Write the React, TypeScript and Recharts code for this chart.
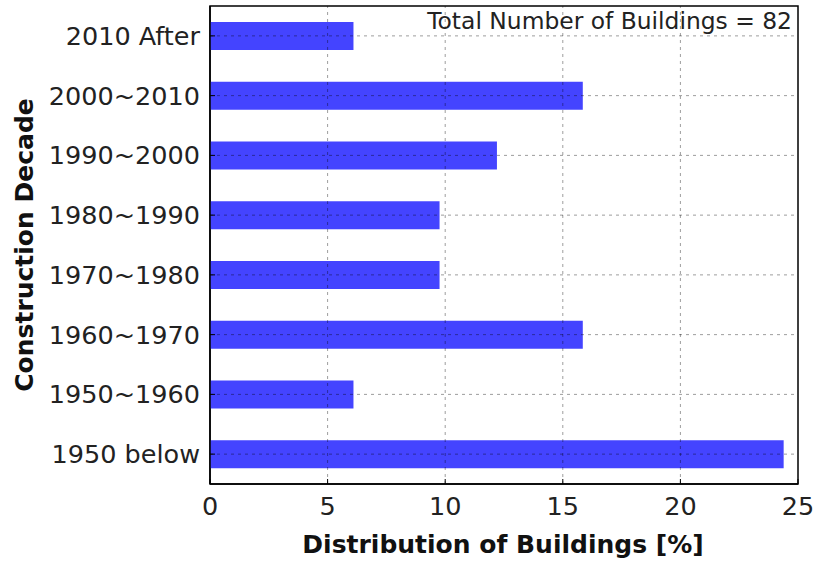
import { BarChart, Bar, XAxis, YAxis, Label, ReferenceLine, ReferenceArea } from 'recharts';

const decades = [
  '1950 below',
  '1950~1960',
  '1960~1970',
  '1970~1980',
  '1980~1990',
  '1990~2000',
  '2000~2010',
  '2010 After',
];
const shares = [24.39, 6.1, 15.85, 9.76, 9.76, 12.2, 15.85, 6.1];
const xTicks = [0, 5, 10, 15, 20, 25];
const totalBuildings = 82;

const data = decades.map((d, i) => ({ decade: d, share: shares[i] }));

const FONT = '"DejaVu Sans", sans-serif';
const gridStyle = { stroke: '#000', strokeWidth: 0.6, strokeDasharray: '3 4', strokeOpacity: 0.65 };

export default function App() {
  return (
    <div style={{ position: 'fixed', left: 0, top: 0, width: 814, height: 563, overflow: 'hidden', background: '#fff' }}>
      <BarChart
        width={814}
        height={563}
        data={data}
        layout="vertical"
        margin={{ top: 6, right: 16, bottom: 0, left: 0 }}
        barCategoryGap={0}
      >
        <XAxis
          type="number"
          domain={[0, 25]}
          ticks={xTicks}
          height={79}
          tickSize={-5}
          tickMargin={18}
          axisLine={{ stroke: '#000', strokeWidth: 1.5 }}
          tickLine={{ stroke: '#000' }}
          tick={{ fill: '#222', fontSize: 25.5, fontFamily: FONT }}
          interval={0}
        >
          <Label
            content={() => (
              <g>
                <text x={503} y={553} textAnchor="middle" fontFamily={FONT} fontSize={25} fontWeight="bold" fill="#111">
                  Distribution of Buildings [%]
                </text>
                <text x={792} y={29} textAnchor="end" fontFamily={FONT} fontSize={23.4} fill="#222">
                  {`Total Number of Buildings = ${totalBuildings}`}
                </text>
                <text
                  x={33}
                  y={245}
                  transform="rotate(-90 33 245)"
                  textAnchor="middle"
                  fontFamily={FONT}
                  fontSize={25}
                  fontWeight="bold"
                  fill="#111"
                >
                  Construction Decade
                </text>
              </g>
            )}
          />
        </XAxis>
        <YAxis
          type="category"
          dataKey="decade"
          reversed
          width={210}
          tickSize={-5}
          tickMargin={15}
          axisLine={{ stroke: '#000', strokeWidth: 1.5 }}
          tickLine={{ stroke: '#000' }}
          tick={{ fill: '#222', fontSize: 25.5, fontFamily: FONT }}
          interval={0}
        />
        <Bar dataKey="share" fill="#4444ff" barSize={28} isAnimationActive={false} />
        {xTicks.slice(1, -1).map((t) => (
          <ReferenceLine key={`x${t}`} x={t} {...gridStyle} />
        ))}
        {decades.map((d) => (
          <ReferenceLine key={`y${d}`} y={d} {...gridStyle} />
        ))}
        <ReferenceArea x1={0} x2={25} fill="none" stroke="#000" strokeWidth={1.5} fillOpacity={0} />
      </BarChart>
    </div>
  );
}
